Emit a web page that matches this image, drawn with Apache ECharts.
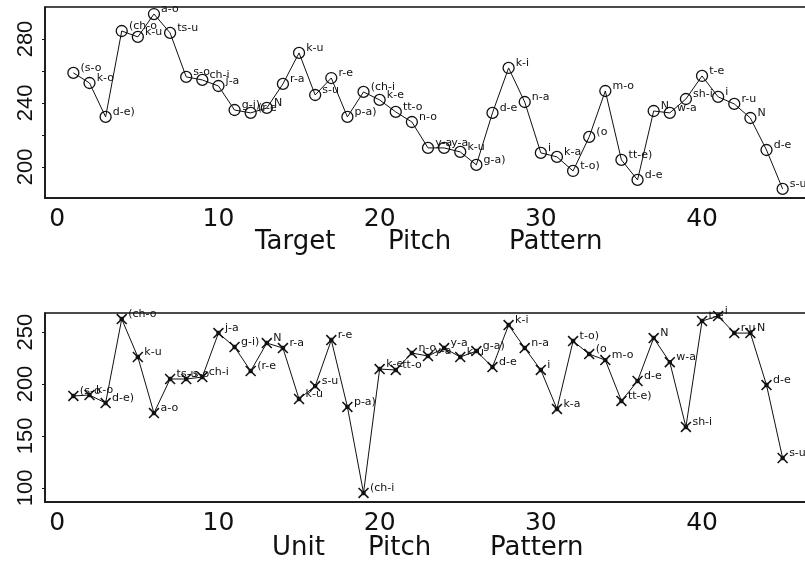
<!DOCTYPE html>
<html>
<head>
<meta charset="utf-8">
<script src="https://cdn.jsdelivr.net/npm/echarts@6/dist/echarts.min.js"></script>
<style>
html,body{margin:0;padding:0;background:#fff;overflow:hidden;width:805px;height:563px;}
#chart{width:816px;height:563px;}
</style>
</head>
<body>
<div id="chart"></div>
<script>
// ---- data ----
const unitLabels = ["(s-o","k-o","d-e)","(ch-o","k-u","a-o","ts-u","s-o","ch-i","j-a",
  "g-i)","(r-e","N","r-a","k-u","s-u","r-e","p-a)","(ch-i","k-e",
  "tt-o","n-o","y-a","y-a","k-u","g-a)","d-e","k-i","n-a","i",
  "k-a","t-o)","(o","m-o","tt-e)","d-e","N","w-a","sh-i","t-e",
  "i","r-u","N","d-e","s-u)"];
const targetPitch = [258.8,252.5,231.3,285,281.3,295.6,283.8,256.3,254.4,250.6,
  235.6,233.8,236.9,251.9,271.3,245,255.6,231.3,246.9,241.9,
  234.4,228.1,211.9,211.9,209.4,201.3,233.8,261.9,240.6,208.8,
  206.3,197.5,218.8,247.5,204.4,191.9,235,233.8,242.5,256.9,
  243.8,239.4,230.6,210.6,186.3];
const unitPitch = [188.5,189.4,181.7,262.5,226,172,204.8,204.8,206.7,249,
  235.6,212.5,239.4,234.6,185.6,198,242.3,178,95.2,214.4,
  213.5,229.8,226.9,234.6,226,231.7,216.3,256.7,234.6,213.5,
  176,241.3,228.8,223,183.7,202.9,244.2,221,158.7,260.6,
  265.4,249,249,199,128.8];
const xTickLabels = [0,10,20,30,40];
const topYTickLabels = [200,240,280];
const topYTicks = [200,220,240,260,280];
const bottomYTickLabels = [100,150,200,250];
const topTitleWords = ["Target","Pitch","Pattern"];
const bottomTitleWords = ["Unit","Pitch","Pattern"];

// ---- chart ----
const ink = '#111';
const chart = echarts.init(document.getElementById('chart'), null, {renderer:'canvas'});
const toXY = arr => arr.map((v,i)=>[i+1, v]);
const crossPath = 'path://M0,1 L1,0 L10,9 L9,10 Z M9,0 L10,1 L1,10 L0,9 Z M3,3 L7,3 L7,7 L3,7 Z';

const ptLabel = {
  show:true,
  formatter: p => unitLabels[p.dataIndex],
  position:'right',
  offset:[-4,-5],
  fontSize:11,
  fontFamily:'DejaVu Sans',
  color:ink
};
const xAxisBase = (grid) => ({
  type:'value', gridIndex:grid, min:-0.76, max:46.76,
  axisLine:{show:true, onZero:false, lineStyle:{color:ink, width:1.5}},
  axisTick:{show:false},
  splitLine:{show:false},
  axisLabel:{customValues:xTickLabels, margin:9, fontSize:25, fontFamily:'DejaVu Sans', color:ink}
});
const yLabelFont = "'Liberation Sans Narrow','Liberation Sans'";
const yAxisBase = (grid, min, max, ticks, labels) => ({
  type:'value', gridIndex:grid, min:min, max:max,
  axisLine:{show:true, onZero:false, lineStyle:{color:ink, width:1.5}},
  axisTick:{show:true, customValues:ticks, length:3, lineStyle:{color:ink}},
  splitLine:{show:false},
  axisLabel:{customValues:labels, rotate:90, margin:8, fontSize:22, fontFamily:yLabelFont, color:ink}
});

const titleGraphics = [];
const topX = [255,388,509], botX = [272,368,490];
topTitleWords.forEach((w,i)=>titleGraphics.push({type:'text', left:topX[i], top:229,
  style:{text:w, font:"26px 'DejaVu Sans'", fill:ink}}));
bottomTitleWords.forEach((w,i)=>titleGraphics.push({type:'text', left:botX[i], top:535,
  style:{text:w, font:"26px 'DejaVu Sans'", fill:ink}}));

chart.setOption({
  animation:false,
  backgroundColor:'#fff',
  grid:[
    {left:45, top:7, width:766, height:191, show:true, borderColor:ink, borderWidth:1.5, containLabel:false},
    {left:45, top:313, width:766, height:189, show:true, borderColor:ink, borderWidth:1.5, containLabel:false}
  ],
  xAxis:[xAxisBase(0), xAxisBase(1)],
  yAxis:[
    yAxisBase(0, 180.6, 300, topYTicks, topYTickLabels),
    yAxisBase(1, 86.5, 268.3, bottomYTickLabels, bottomYTickLabels)
  ],
  series:[
    {type:'line', xAxisIndex:0, yAxisIndex:0, data:toXY(targetPitch),
      symbol:'circle', symbolSize:11, showAllSymbol:true,
      itemStyle:{color:'rgba(0,0,0,0)', borderColor:ink, borderWidth:1.3},
      lineStyle:{color:ink, width:1}, label:ptLabel, emphasis:{disabled:true}, clip:false},
    {type:'line', xAxisIndex:1, yAxisIndex:1, data:toXY(unitPitch),
      symbol:crossPath, symbolSize:11, showAllSymbol:true,
      itemStyle:{color:ink},
      lineStyle:{color:ink, width:1}, label:ptLabel, emphasis:{disabled:true}, clip:false}
  ],
  graphic:titleGraphics
});
</script>
</body>
</html>
